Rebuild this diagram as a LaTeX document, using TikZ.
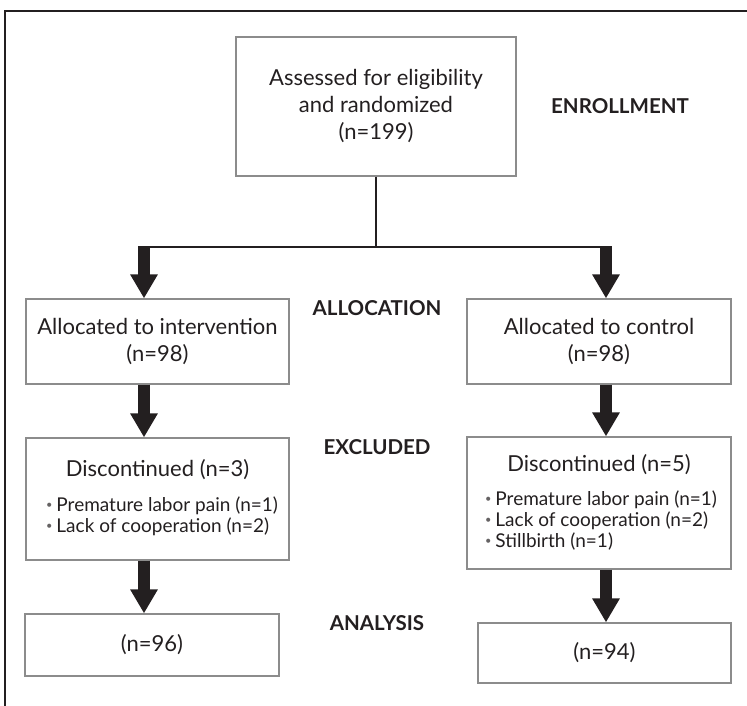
\documentclass[tikz,border=0pt]{standalone}
\usepackage{fontspec}
\setmainfont{Lato}
\usetikzlibrary{arrows.meta}
\definecolor{ink}{HTML}{231F20}
\definecolor{edge}{HTML}{8C8C8C}
\newcommand{\reason}[1]{{\fontsize{11}{11}\selectfont\color{ink!70}\raisebox{3pt}{•}}\hspace{4pt}#1}
\tikzset{
  box/.style={draw=edge, line width=1.2pt, align=center, inner sep=0pt,
    font=\fontsize{22}{27}\selectfont, text=ink},
  title/.style={inner sep=0pt, font=\fontsize{22}{27}\selectfont, text=ink},
  reasons/.style={anchor=north, inner sep=0pt, align=left,
    font=\fontsize{19}{21}\selectfont, text=ink},
  phase/.style={font=\fontsize{20.5}{22}\selectfont\bfseries, text=ink},
  link/.style={draw=ink, line width=2.2pt},
  fatarrow/.style={draw=ink, line width=12pt, -{Triangle[length=24pt, width=26pt]}},
}
\begin{document}
\begin{tikzpicture}[x=1pt, y=1pt]
\useasboundingbox (0,0) rectangle (747,-706);
% frame
\draw[ink, line width=2pt] (5,-706) -- (5,-11) -- (747,-11);
% columns
\coordinate (lcol) at (144,0);
\coordinate (rcol) at (606,0);
% boxes
\node[box, minimum width=280pt, minimum height=139pt] (enroll) at (376,-106.5)
  {Assessed for eligibility\\and randomized\\(n=199)};
\node[box, minimum width=263pt, minimum height=85pt] (alloci) at (157.5,-341.5)
  {Allocated to intervention\\(n=98)};
\node[box, minimum width=264pt, minimum height=85pt] (allocc) at (599,-341.5)
  {Allocated to control\\(n=98)};
\node[box, minimum width=263pt, minimum height=122pt] (exci) at (157.5,-499) {};
\node[box, minimum width=264pt, minimum height=132pt] (excc) at (599,-503) {};
\node[box, minimum width=254pt, minimum height=62pt] (anai) at (152,-645) {(n=96)};
\node[box, minimum width=253pt, minimum height=60pt] (anac) at (604.5,-653) {(n=94)};
% exclusion details
\node[title] (excit) at (157.5,-470) {Discontinued (n=3)};
\node[reasons] (excir) at (162,-497)
  {\reason{Premature labor pain (n=1)}\\ \reason{Lack of cooperation (n=2)}};
\node[title] (excct) at (599,-465) {Discontinued (n=5)};
\node[reasons] (exccr) at (601,-491)
  {\reason{Premature labor pain (n=1)}\\ \reason{Lack of cooperation (n=2)}\\
   \reason{Stillbirth (n=1)}};
% phases
\node[phase] (enrollment) at (620,-106) {ENROLLMENT};
\node[phase] (allocation) at (377,-308) {ALLOCATION};
\node[phase] (excluded) at (377,-447) {EXCLUDED};
\node[phase] (analysis) at (377,-623) {ANALYSIS};
% connectors
\coordinate (split) at (376,-247);
\coordinate (barL) at (138,-247);
\coordinate (barR) at (612,-247);
\draw[link] (enroll.south) -- (split);
\draw[link] (barL) -- (barR);
\draw[fatarrow] ([yshift=1pt]split -| lcol) -- (alloci.north -| lcol);
\draw[fatarrow] ([yshift=1pt]split -| rcol) -- (allocc.north -| rcol);
\draw[fatarrow] (alloci.south -| lcol) -- (exci.north -| lcol);
\draw[fatarrow] (allocc.south -| rcol) -- (excc.north -| rcol);
\draw[fatarrow] (exci.south -| lcol) -- (anai.north -| lcol);
\draw[fatarrow] (excc.south -| rcol) -- (anac.north -| rcol);
\end{tikzpicture}
\end{document}
